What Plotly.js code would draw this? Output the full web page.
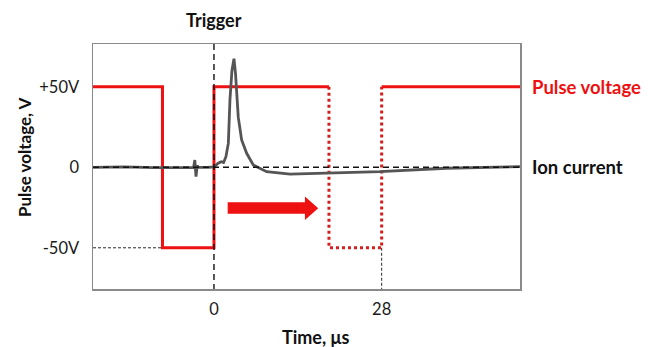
<!DOCTYPE html>
<html>
<head>
<meta charset="utf-8">
<script src="https://cdn.plot.ly/plotly-3.0.1.min.js"></script>
<style>
  html, body { margin: 0; padding: 0; background: #fff; }
  #chart { width: 657px; height: 347px; }
</style>
</head>
<body>
<div id="chart"></div>
<script>
// Axis extents (time in µs, voltage in V)
const xRange = [-20.2, 51.1];
const yRange = [-75.6, 76.6];

// Tick labels
const xTickVals = [0, 28];
const xTickText = ['0', '28'];
const yTickVals = [50, 0, -50];
const yTickText = ['+50V', '0', '-50V'];

// Pulse voltage: first pulse (solid) and shifted pulse (dotted)
const pulseSolidX = [-20.2, -8.6, -8.6, 0, 0, 19.2, null, 28, 51.1];
const pulseSolidY = [50, 50, -50, -50, 50, 50, null, 50, 50];
const pulseShiftX = [19.2, 19.2, 28, 28];
const pulseShiftY = [50, -50, -50, 50];

// Ion current trace
const ionX = [-20.2, -15, -10, -5, -3.4, -3.2, -3.0, -2.8, -2.6, -1, 0, 0.7, 1.2, 1.6, 2.0, 2.4, 2.67, 3.0, 3.34, 3.6, 3.89, 4.06, 4.62, 5.46, 6.56, 8.8, 12.7, 19.0, 27.7, 38.8, 51.1];
const ionY = [0, 0.3, -0.2, 0.2, 0, 4.5, -5.8, 1, 0, 0, 0.3, 2.5, 3.5, 3, 6.6, 15, 42, 60, 67.5, 58, 42, 31, 17, 8.7, 1.4, -2.7, -4.2, -3.7, -2.7, -0.6, 0.4];

// Reference lines: trigger at t = 0, zero level, -50 V level, t = 28 µs
const triggerX = [0, 0];
const triggerY = [yRange[1], yRange[0]];
const zeroX = [xRange[0], xRange[1]];
const zeroY = [0, 0];
const lowLevelX = [xRange[0], -8.6];
const lowLevelY = [-50, -50];
const endMarkX = [28, 28];
const endMarkY = [-50, yRange[0]];

// Block arrow showing the pulse shift
const arrowX = [2.29, 15.19, 15.19, 17.41, 15.19, 15.19, 2.29, 2.29];
const arrowY = [-21.7, -21.7, -18.2, -25.5, -32.7, -28.8, -28.8, -21.7];

const RED = '#ee1111';
const FONT = 'Lato, "Open Sans", sans-serif';

const traces = [
  { x: arrowX, y: arrowY, mode: 'lines', fill: 'toself', fillcolor: RED,
    line: { color: RED, width: 0 }, hoverinfo: 'skip' },
  { x: pulseShiftX, y: pulseShiftY, mode: 'lines',
    line: { color: '#d41f1f', width: 3, dash: 'dot' } },
  { x: pulseSolidX, y: pulseSolidY, mode: 'lines', connectgaps: false,
    line: { color: RED, width: 3 } },
  { x: ionX, y: ionY, mode: 'lines',
    line: { color: '#555', width: 2.8 } },
  { x: zeroX, y: zeroY, mode: 'lines',
    line: { color: '#111', width: 1.4, dash: '6px,4px' } },
  { x: triggerX, y: triggerY, mode: 'lines',
    line: { color: '#111', width: 1.4, dash: '6px,4px' } },
  { x: lowLevelX, y: lowLevelY, mode: 'lines',
    line: { color: '#111', width: 0.9, dash: '3px,2px' } },
  { x: endMarkX, y: endMarkY, mode: 'lines',
    line: { color: '#111', width: 0.9, dash: '3px,2px' } }
];

const layout = {
  width: 657, height: 347,
  margin: { l: 93, r: 137, t: 44, b: 58 },
  paper_bgcolor: '#fff', plot_bgcolor: '#fff',
  showlegend: false,
  font: { family: FONT, size: 16, color: '#222' },
  xaxis: {
    range: xRange, tickvals: xTickVals, ticktext: xTickText,
    showgrid: false, zeroline: false, ticks: '',
    showline: true, mirror: true, linecolor: '#8a8a8a', linewidth: 1.5,
    ticklabelstandoff: 5,
    tickfont: { family: FONT, size: 16.5, color: '#1a1a1a' }
  },
  yaxis: {
    range: yRange, tickvals: yTickVals, ticktext: yTickText,
    showgrid: false, zeroline: false, ticks: '',
    showline: true, mirror: true, linecolor: '#8a8a8a', linewidth: 1.5,
    ticklabelstandoff: 9,
    tickfont: { family: FONT, size: 16.5, color: '#1a1a1a' }
  },
  annotations: [
    { text: '<b>Trigger</b>', xref: 'x', yref: 'paper', x: 0, y: 1,
      yshift: 24, showarrow: false, xanchor: 'center', yanchor: 'middle',
      font: { family: FONT, size: 18, color: '#111' } },
    { text: '<b>Pulse voltage</b>', xref: 'paper', yref: 'y', x: 1, y: 50,
      xshift: 10, showarrow: false, xanchor: 'left', yanchor: 'middle',
      font: { family: FONT, size: 18.5, color: RED } },
    { text: '<b>Ion current</b>', xref: 'paper', yref: 'y', x: 1, y: 0,
      xshift: 10, showarrow: false, xanchor: 'left', yanchor: 'middle',
      font: { family: FONT, size: 18.5, color: '#111' } },
    { text: '<b>Time, μs</b>', xref: 'paper', yref: 'paper',
      x: (315 - 93) / 427, y: 0, yshift: -48, showarrow: false,
      xanchor: 'center', yanchor: 'middle',
      font: { family: FONT, size: 18, color: '#111' } },
    { text: '<b>Pulse voltage, V</b>', xref: 'paper', yref: 'paper',
      x: 0, xshift: -69, y: (289 - 157) / 245, textangle: -90,
      showarrow: false, xanchor: 'center', yanchor: 'middle',
      font: { family: FONT, size: 17, color: '#111' } }
  ]
};

Plotly.newPlot('chart', traces, layout, { displayModeBar: false, staticPlot: true });
</script>
</body>
</html>
